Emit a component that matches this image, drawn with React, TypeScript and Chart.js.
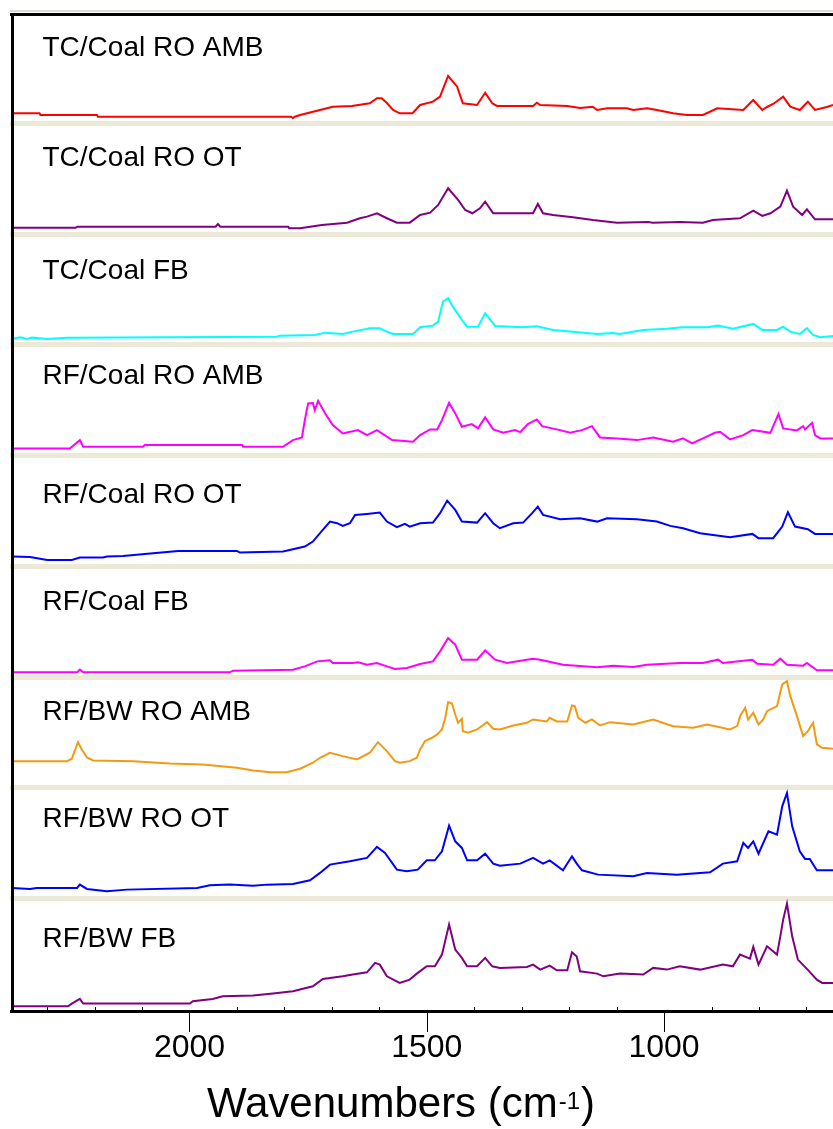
import { useEffect, useRef } from 'react';
import { Chart, registerables } from 'chart.js';

Chart.register(...registerables);

// ---------- Data (wavenumber cm-1, intensity in panel units) ----------
const panelLabels = [
  'TC/Coal RO AMB',
  'TC/Coal RO OT',
  'TC/Coal FB',
  'RF/Coal RO AMB',
  'RF/Coal RO OT',
  'RF/Coal FB',
  'RF/BW RO AMB',
  'RF/BW RO OT',
  'RF/BW FB',
];

const tcCoalRoAmb: [number, number][] = [
  [2374, 11.5], [2316, 11.5], [2314, 9.8], [2195, 9.8], [2193, 8.1], [1786, 8.1], [1782, 6.8], [1778, 8.1],
  [1767, 9.8], [1725, 14.8], [1698, 18.1], [1658, 18.8], [1620, 21.5], [1605, 26.5], [1595, 26.5], [1584, 21.8],
  [1571, 14.8], [1557, 11.5], [1530, 11.5], [1514, 19.8], [1487, 23.1], [1472, 28.1], [1455, 48.8], [1436, 38.1],
  [1424, 21.5], [1394, 19.8], [1377, 32.1], [1362, 21.5], [1352, 18.8], [1276, 18.8], [1268, 22.1], [1261, 19.8],
  [1204, 18.8], [1177, 16.8], [1150, 18.1], [1141, 14.8], [1120, 16.5], [1078, 16.5], [1065, 14.8], [1036, 16.5],
  [1015, 14.8], [981, 11.5], [952, 9.8], [918, 9.8], [888, 16.5], [833, 14.8], [812, 24.8], [793, 14.8],
  [783, 17.8], [770, 20.8], [749, 28.1], [734, 18.1], [714, 14.8], [697, 23.1], [682, 14.8], [657, 17.8], [644, 19.8],
];

const tcCoalRoOt: [number, number][] = [
  [2374, 7.9], [2240, 7.9], [2236, 8.9], [1945, 8.9], [1940, 11.6], [1935, 8.9], [1792, 8.9], [1790, 7.3],
  [1767, 7.3], [1721, 10.6], [1668, 12.9], [1641, 17.3], [1626, 18.9], [1605, 22.3], [1584, 17.3], [1563, 12.9],
  [1536, 12.9], [1514, 20.6], [1493, 22.9], [1476, 30.6], [1455, 47.3], [1434, 35.6], [1419, 25.6], [1404, 22.3],
  [1388, 27.3], [1377, 33.9], [1360, 22.3], [1276, 22.3], [1266, 31.6], [1255, 22.3], [1234, 20.6], [1192, 18.3],
  [1150, 15.6], [1099, 12.9], [1034, 13.6], [1024, 12.9], [967, 13.6], [918, 12.9], [897, 15.6], [840, 17.3],
  [812, 24.9], [793, 19.6], [776, 22.3], [755, 28.9], [741, 44.9], [728, 28.9], [709, 20.6], [699, 26.3],
  [682, 16.3], [644, 16.3],
];

const tcCoalFb: [number, number][] = [
  [2374, 7.4], [2357, 9.1], [2342, 7.4], [2332, 8.7], [2300, 7.4], [2258, 8.7], [1816, 9.7], [1809, 10.7],
  [1736, 11.4], [1714, 13.7], [1677, 12.4], [1656, 14.7], [1620, 18.1], [1599, 18.1], [1584, 14.7], [1571, 12.4],
  [1529, 12.4], [1514, 19.1], [1487, 20.7], [1476, 24.7], [1466, 44.7], [1455, 48.1], [1445, 39.7], [1426, 26.4],
  [1415, 19.7], [1392, 19.7], [1377, 33.1], [1356, 20.4], [1299, 19.1], [1268, 20.1], [1234, 16.4], [1192, 14.7],
  [1141, 12.4], [1107, 13.4], [1093, 12.4], [1044, 16.4], [994, 17.7], [962, 19.1], [909, 19.1], [886, 20.7],
  [855, 17.7], [812, 22.4], [793, 16.4], [762, 16.4], [749, 19.7], [734, 14.7], [714, 12.4], [699, 18.1],
  [686, 11.4], [671, 9.1], [644, 10.4],
];

const rfCoalRoAmb: [number, number][] = [
  [2374, 8.7], [2252, 8.7], [2231, 17], [2224, 10.3], [2098, 10.3], [2094, 12], [1889, 12], [1887, 10.3],
  [1803, 10.3], [1782, 17], [1763, 19.7], [1757, 37], [1750, 53.7], [1740, 54], [1736, 47], [1729, 56.3],
  [1714, 43.7], [1698, 32], [1677, 23.7], [1645, 27], [1626, 22], [1605, 27], [1573, 17], [1529, 15.3],
  [1514, 22], [1493, 27.7], [1478, 27.7], [1468, 37], [1453, 54.3], [1440, 43.7], [1426, 30.3], [1405, 33],
  [1392, 28.7], [1377, 39.7], [1360, 27.7], [1339, 24.3], [1314, 27], [1303, 25], [1287, 33], [1268, 37.7],
  [1257, 31], [1219, 27], [1198, 24.3], [1173, 27], [1152, 31], [1135, 19.7], [1099, 18.7], [1057, 17],
  [1023, 19.7], [981, 15.3], [960, 18.7], [941, 13.7], [918, 18.7], [893, 24.3], [882, 25.3], [861, 17.7],
  [833, 22], [814, 27], [776, 24.3], [759, 43], [749, 28.7], [720, 26.7], [707, 31], [703, 27.7],
  [688, 34.3], [682, 22], [671, 18.7], [644, 18.7],
];

const rfCoalRoOt: [number, number][] = [
  [2374, 11.3], [2336, 11], [2300, 8], [2248, 8], [2231, 10.3], [2182, 10.3], [2174, 11.3], [2140, 12],
  [2094, 14], [2024, 17], [1900, 17], [1894, 15.3], [1803, 16.5], [1782, 18.7], [1757, 21.3], [1740, 26.3],
  [1725, 34.7], [1704, 46.3], [1689, 44.7], [1677, 42], [1662, 44.7], [1651, 53], [1626, 54], [1599, 55.3],
  [1584, 46.3], [1563, 40.7], [1546, 44], [1536, 41.3], [1514, 44.7], [1487, 45.3], [1472, 54.7], [1457, 67.3],
  [1440, 58], [1426, 46.3], [1394, 45.3], [1377, 54.7], [1360, 44.7], [1346, 39.7], [1318, 44.7], [1297, 45.3],
  [1278, 54.7], [1266, 61.3], [1255, 53], [1219, 48.7], [1177, 49.7], [1141, 46.3], [1120, 49.7], [1057, 48.7],
  [1015, 46.3], [987, 42], [960, 39.7], [924, 34.7], [861, 30.7], [814, 34], [801, 29.7], [770, 29.7],
  [751, 41.3], [739, 55.7], [724, 41.3], [697, 38.7], [682, 34], [644, 34],
];

const rfCoalFb: [number, number][] = [
  [2374, 6.3], [2237, 6.3], [2231, 9], [2224, 6.3], [1915, 6.3], [1908, 8], [1782, 9], [1757, 12.3],
  [1731, 17.3], [1704, 18.3], [1698, 15.7], [1656, 15.7], [1645, 16.5], [1626, 14], [1605, 15.7], [1584, 12.3],
  [1567, 9.7], [1542, 10.7], [1514, 14.7], [1487, 17.3], [1472, 27.3], [1455, 40.7], [1440, 34], [1426, 19],
  [1394, 19], [1377, 28.3], [1356, 19], [1331, 15.7], [1289, 19], [1276, 20], [1261, 19], [1213, 14],
  [1141, 11.3], [1107, 13], [1065, 11.7], [1036, 14], [967, 15.7], [918, 15.7], [886, 19], [876, 15.7],
  [814, 19], [804, 15], [770, 14], [755, 20], [741, 14], [707, 13], [699, 15.7], [678, 8.3], [644, 8.3],
];

const rfBwRoAmb: [number, number][] = [
  [2374, 28.3], [2258, 28.3], [2248, 30.7], [2235, 47.3], [2227, 40], [2216, 32], [2203, 29], [2119, 28.3],
  [2041, 26], [1972, 25], [1900, 21.7], [1866, 19], [1830, 17.3], [1795, 17.3], [1767, 20.7], [1740, 26.7],
  [1725, 31.7], [1704, 36.7], [1677, 33.3], [1647, 30], [1620, 36.7], [1603, 47.3], [1584, 38.3], [1567, 28.3],
  [1557, 26.7], [1536, 28.3], [1521, 31.7], [1514, 40], [1504, 48.3], [1489, 51.7], [1478, 55], [1468, 60],
  [1461, 71.7], [1455, 87.3], [1447, 86], [1440, 75], [1434, 66.7], [1426, 70.7], [1424, 58.3], [1413, 56.7],
  [1394, 60], [1373, 67.3], [1360, 60.7], [1346, 60], [1318, 64], [1289, 66.7], [1276, 70], [1247, 68],
  [1241, 71.7], [1226, 68], [1204, 68], [1194, 84], [1188, 83.3], [1181, 71.7], [1166, 66.7], [1152, 70],
  [1135, 64], [1114, 67.3], [1065, 65], [1023, 70], [981, 63.3], [939, 61.7], [909, 65], [861, 60],
  [846, 63.3], [840, 73.3], [829, 81.7], [823, 70], [812, 76.7], [801, 65], [791, 70], [783, 78.3],
  [762, 83.3], [751, 105], [741, 108.3], [734, 93.3], [720, 73.3], [707, 53.3], [697, 58.3], [686, 66.7],
  [678, 45], [667, 41.7], [644, 40.7],
];

const rfBwRoOt: [number, number][] = [
  [2374, 12.3], [2336, 11.3], [2322, 12.3], [2237, 12.3], [2231, 15.6], [2216, 11.3], [2174, 8.9], [2132, 10.6],
  [1984, 12.3], [1957, 14.9], [1915, 15.6], [1866, 14.6], [1837, 15.6], [1782, 16.3], [1746, 19.9], [1725, 27.3],
  [1704, 35.6], [1662, 38.9], [1626, 42.3], [1605, 53.3], [1588, 47.3], [1563, 30.6], [1542, 28.9], [1519, 30.6],
  [1500, 39.9], [1483, 39.9], [1468, 48.9], [1453, 74.6], [1440, 58.9], [1426, 52.3], [1415, 39.9], [1394, 39.9],
  [1377, 46.6], [1360, 36.6], [1346, 34.6], [1303, 36.6], [1276, 42.3], [1255, 36.6], [1241, 39.9], [1213, 29.9],
  [1194, 43.9], [1184, 36.6], [1173, 29.9], [1139, 25.6], [1065, 23.9], [1036, 27.3], [973, 25.6], [903, 27.9],
  [876, 36.6], [846, 38.9], [833, 57.3], [823, 52.3], [812, 58.9], [801, 46.6], [780, 68.9], [762, 65.6],
  [751, 93.9], [741, 107.3], [730, 73.9], [714, 48.9], [703, 41.3], [693, 41.3], [678, 29.9], [644, 29.9],
];

const rfBwFb: [number, number][] = [
  [2374, 4.7], [2256, 4.7], [2248, 7.4], [2231, 12.1], [2224, 7.4], [1999, 7.4], [1993, 9.7], [1951, 12.1],
  [1930, 14.7], [1866, 15.4], [1824, 17.4], [1782, 19.7], [1740, 24.7], [1719, 32.1], [1677, 34.7], [1656, 36.4],
  [1626, 38.7], [1609, 48.1], [1599, 46.4], [1584, 34.7], [1557, 28.1], [1536, 31.4], [1519, 38.1], [1500, 44.7],
  [1483, 44.7], [1468, 56.4], [1453, 86.4], [1440, 61.4], [1426, 53.1], [1415, 44.7], [1394, 44.7], [1377, 53.1],
  [1362, 44.7], [1346, 43.1], [1289, 44.1], [1276, 46.4], [1261, 41.4], [1241, 45.4], [1226, 40.7], [1204, 40.7],
  [1194, 58.7], [1184, 54.4], [1177, 39.7], [1141, 37.4], [1128, 34.7], [1093, 37.4], [1044, 36.4], [1023, 43.1],
  [994, 41.4], [967, 44.7], [924, 41.4], [876, 46.4], [855, 44.7], [840, 56.4], [819, 52.4], [812, 64.1],
  [801, 46.4], [783, 64.7], [762, 56.4], [755, 74.7], [749, 91.4], [741, 107.4], [730, 74.7], [718, 51.4],
  [699, 42.1], [678, 31.4], [667, 28.1], [644, 28.1],
];

const majorTicks = [2000, 1500, 1000];
const minorTicks = [2300, 2200, 2100, 1900, 1800, 1700, 1600, 1400, 1300, 1200, 1100, 900, 800, 700];
const xTitle = 'Wavenumbers (cm';
const xTitleSup = '-1';

// ---------- Styles ----------
const panelColors = ['#FF0000', '#800080', '#00FFFF', '#FF00FF', '#0000FF', '#FF00FF', '#F39A12', '#0000FF', '#800080'];
const labelBaselines = [42, 41.2, 43.4, 37.6, 45.8, 42, 41.2, 37.4, 46.6];
const X_MIN = 644;
const X_MAX = 2374;
const PANEL = 110.8;
const FONT = '"Liberation Sans", Arial, Helvetica, sans-serif';

export default function App() {
  const ref = useRef<HTMLCanvasElement | null>(null);

  useEffect(() => {
    const series = [tcCoalRoAmb, tcCoalRoOt, tcCoalFb, rfCoalRoAmb, rfCoalRoOt, rfCoalFb, rfBwRoAmb, rfBwRoOt, rfBwFb];
    const n = series.length;
    const datasets = series.map((s, i) => ({
      label: panelLabels[i],
      data: s.map(([x, h]) => ({ x, y: (n - 1 - i) * PANEL + h })),
      borderColor: panelColors[i],
      backgroundColor: panelColors[i],
      borderWidth: 2,
      pointRadius: 0,
      tension: 0,
      fill: false,
    }));

    const decor = {
      id: 'decor',
      beforeDatasetsDraw(chart: any) {
        const { ctx, chartArea: a, scales } = chart;
        const y = scales.y;
        ctx.save();
        ctx.fillStyle = '#ECE9D8';
        for (let k = 1; k < n; k++) {
          const yy = Math.round(y.getPixelForValue(k * PANEL));
          ctx.fillRect(10, yy - 4, a.right - 10, 5);
        }
        ctx.restore();
      },
      afterDraw(chart: any) {
        const { ctx, chartArea: a, scales } = chart;
        const x = scales.x;
        const y = scales.y;
        ctx.save();
        // frame
        ctx.fillStyle = '#DCDAD2';
        ctx.fillRect(10, 10, a.right - 10, 2);
        ctx.fillStyle = '#000';
        ctx.fillRect(10, a.top - 1, a.right - 10, 3);
        ctx.fillRect(a.left - 1, a.top - 1, 3, a.bottom - a.top + 2);
        ctx.fillRect(10, a.bottom - 1, a.right - 10, 3);
        // ticks
        ctx.fillStyle = '#000';
        majorTicks.forEach((v) => {
          const px = Math.round(x.getPixelForValue(v));
          ctx.fillRect(px, a.bottom + 1, 1, 20);
        });
        minorTicks.forEach((v) => {
          const px = Math.round(x.getPixelForValue(v));
          ctx.fillRect(px, a.bottom - 4, 1, 4);
        });
        // panel labels
        ctx.font = `28px ${FONT}`;
        ctx.textBaseline = 'alphabetic';
        ctx.textAlign = 'left';
        panelLabels.forEach((lbl, i) => {
          const top = y.getPixelForValue((n - i) * PANEL);
          ctx.fillText(lbl, 42.5, top + labelBaselines[i]);
        });
        // x title with superscript
        const mainFont = `42px ${FONT}`;
        const supFont = `24px ${FONT}`;
        ctx.font = mainFont;
        const w1 = ctx.measureText(xTitle).width;
        const w3 = ctx.measureText(')').width;
        ctx.font = supFont;
        const w2 = ctx.measureText(xTitleSup).width;
        const total = w1 + w2 + w3 + 2;
        let sx = 401 - total / 2;
        const base = 1117;
        ctx.font = mainFont;
        ctx.fillText(xTitle, sx, base);
        sx += w1 + 1;
        ctx.font = supFont;
        ctx.fillText(xTitleSup, sx, base - 8);
        sx += w2 + 1;
        ctx.font = mainFont;
        ctx.fillText(')', sx, base);
        ctx.restore();
      },
    };

    const chart = new Chart(ref.current as HTMLCanvasElement, {
      type: 'line',
      data: { datasets } as any,
      options: {
        animation: false,
        responsive: false,
        devicePixelRatio: 1,
        layout: { padding: { left: 12, top: 14, right: 0, bottom: 0 } },
        plugins: { legend: { display: false }, tooltip: { enabled: false } },
        scales: {
          x: {
            type: 'linear',
            reverse: true,
            min: X_MIN,
            max: X_MAX,
            afterBuildTicks: (s: any) => {
              s.ticks = majorTicks.map((v) => ({ value: v }));
            },
            afterFit: (s: any) => {
              s.height = 118;
            },
            grid: { display: false },
            border: { display: false },
            ticks: {
              autoSkip: false,
              maxRotation: 0,
              padding: 10,
              color: '#000',
              font: { family: FONT, size: 32 },
              callback: (v: any) => String(v),
            },
          },
          y: { display: false, min: 0, max: n * PANEL },
        },
      } as any,
      plugins: [decor],
    });
    return () => chart.destroy();
  }, []);

  return (
    <div style={{ position: 'absolute', left: 0, top: 0, width: 833, height: 1129, background: '#fff' }}>
      <canvas ref={ref} width={833} height={1129} style={{ display: 'block' }} />
    </div>
  );
}
